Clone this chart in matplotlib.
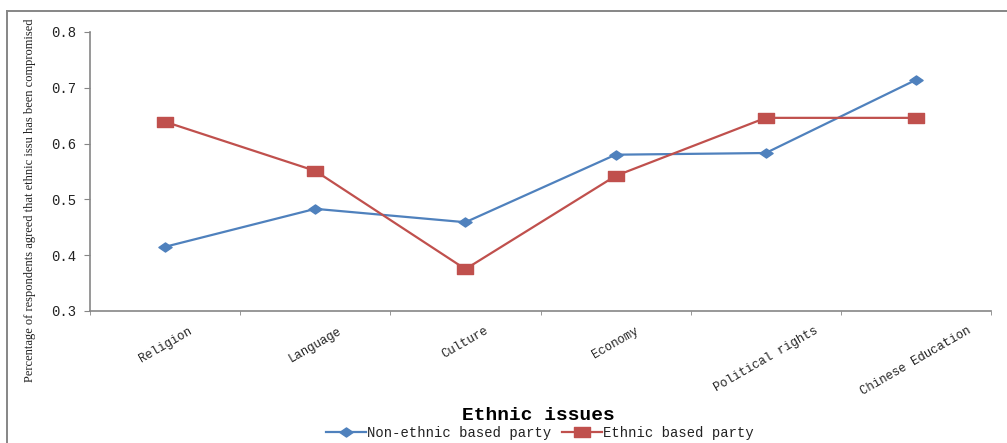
import matplotlib.pyplot as plt
from matplotlib.lines import Line2D
from matplotlib.path import Path
import numpy as np

BLUE = "#4F81BD"
RED = "#C0504D"
AXIS = "#868686"
TEXT = "#222222"

issues = ["Religion", "Language", "Culture", "Economy", "Political rights", "Chinese Education"]
non_ethnic = [0.415, 0.483, 0.459, 0.580, 0.583, 0.714]
ethnic = [0.639, 0.551, 0.375, 0.542, 0.646, 0.646]
yticks = [0.3, 0.4, 0.5, 0.6, 0.7, 0.8]

# Excel-style squashed markers
diamond = Path([(-1.45, 0), (0, -1), (1.45, 0), (0, 1), (-1.45, 0)], closed=True)
wide_square = Path([(-1.5, -1), (1.5, -1), (1.5, 1), (-1.5, 1), (-1.5, -1)], closed=True)

fig = plt.figure(figsize=(10.07, 4.43), dpi=100)
ax = fig.add_axes([0.0894, 0.298, 0.8947, 0.630])

x = np.arange(len(issues))
ax.plot(x, non_ethnic, color=BLUE, lw=1.6, marker=diamond, ms=9.5,
        markerfacecolor=BLUE, markeredgecolor=BLUE, label="Non-ethnic based party")
ax.plot(x, ethnic, color=RED, lw=1.6, marker=wide_square, ms=11,
        markerfacecolor=RED, markeredgecolor=RED, label="Ethnic based party")

ax.set_xlim(-0.5, len(issues) - 0.5)
ax.set_ylim(0.3, 0.8)
ax.set_yticks(yticks)
ax.set_yticklabels([f"{v:.1f}" for v in yticks], family="Liberation Mono",
                   fontsize=10, color=TEXT)
ax.set_xticks(x)
ax.set_xticklabels(issues, rotation=30, ha="center", va="top",
                   family="Liberation Mono", fontsize=8.8, color=TEXT)
ax.set_xticks(np.arange(len(issues) + 1) - 0.5, minor=True)
ax.tick_params(axis="x", which="major", length=0, pad=10)
ax.tick_params(axis="x", which="minor", length=3, color=AXIS, direction="out")
ax.tick_params(axis="y", length=4, color=AXIS, direction="out", pad=6)

for sp in ("top", "right"):
    ax.spines[sp].set_visible(False)
for sp in ("left", "bottom"):
    ax.spines[sp].set_color(AXIS)
    ax.spines[sp].set_linewidth(1.2)

fig.text(0.030, 1 - 200 / 443,
         "Percentage of respondents agreed that ethnic issu has been compromised",
         rotation=90, ha="center", va="center", family="Liberation Serif",
         fontsize=9, color=TEXT)
fig.text(0.535, 1 - 415 / 443, "Ethnic issues", ha="center", va="center",
         family="Liberation Mono", fontweight="bold", fontsize=14, color="black")

fig.legend(loc="center", bbox_to_anchor=(0.536, 1 - 433 / 443), ncol=2,
           frameon=False, prop={"family": "Liberation Mono", "size": 10},
           handlelength=2.9, handletextpad=0.05, columnspacing=0.8,
           borderpad=0, labelcolor=TEXT)

# outer chart-area frame (left and top edges)
fig.add_artist(Line2D([7 / 1007, 7 / 1007], [0, 1 - 11 / 443],
                      transform=fig.transFigure, color=AXIS, lw=1.4))
fig.add_artist(Line2D([7 / 1007, 1], [1 - 11 / 443, 1 - 11 / 443],
                      transform=fig.transFigure, color=AXIS, lw=1.4))

fig.savefig("out.png", dpi=100, facecolor="white")
